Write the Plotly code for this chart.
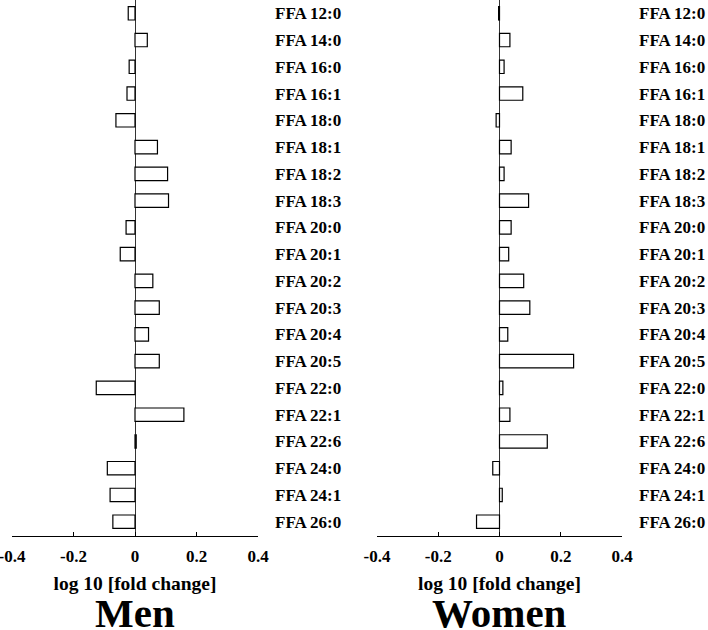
import plotly.graph_objects as go

categories = ["FFA 12:0", "FFA 14:0", "FFA 16:0", "FFA 16:1", "FFA 18:0", "FFA 18:1",
              "FFA 18:2", "FFA 18:3", "FFA 20:0", "FFA 20:1", "FFA 20:2", "FFA 20:3",
              "FFA 20:4", "FFA 20:5", "FFA 22:0", "FFA 22:1", "FFA 22:6", "FFA 24:0",
              "FFA 24:1", "FFA 26:0"]
men_values = [-0.022, 0.040, -0.019, -0.026, -0.062, 0.073, 0.106, 0.109, -0.029, -0.048,
              0.058, 0.079, 0.044, 0.079, -0.126, 0.159, 0.004, -0.090, -0.081, -0.072]
women_values = [-0.003, 0.034, 0.015, 0.076, -0.011, 0.038, 0.015, 0.095, 0.038, 0.030,
                0.079, 0.099, 0.027, 0.242, 0.011, 0.034, 0.156, -0.022, 0.009, -0.075]
tick_vals = [-0.4, -0.2, 0, 0.2, 0.4]
tick_text = ["-0.4", "-0.2", "0", "0.2", "0.4"]
axis_title = "log 10 [fold change]"
panel_titles = ["Men", "Women"]

FONT = "Liberation Serif"
W, H = 708, 630
plot_top, plot_bottom = 0, 536
plot_h = plot_bottom - plot_top
row = 26.76
first_center = 13.3
last_center = 521.7
y_top = 0 - (first_center - plot_top) / row
y_bot = 19 + (plot_bottom - last_center) / row

fig = go.Figure()
for i, vals in enumerate([men_values, women_values]):
    sfx = "" if i == 0 else str(i + 1)
    fig.add_trace(go.Bar(
        x=vals, y=categories, orientation="h", width=0.5,
        marker=dict(color="white", line=dict(color="black", width=1.2)),
        xaxis="x" + sfx, yaxis="y" + sfx, showlegend=False,
        hoverinfo="x+y"))

domains = [[12 / W, 258 / W], [377 / W, 622 / W]]
layout = dict(
    template="none",
    width=W, height=H,
    margin=dict(l=0, r=0, t=plot_top, b=H - plot_bottom, pad=0),
    plot_bgcolor="white", paper_bgcolor="white",
    font=dict(family=FONT, color="black"),
    showlegend=False,
    annotations=[],
)
for i in range(2):
    sfx = "" if i == 0 else str(i + 1)
    layout["xaxis" + sfx] = dict(
        domain=domains[i], range=[-0.4, 0.4], anchor="y" + sfx,
        tickvals=tick_vals, ticktext=tick_text,
        ticks="inside", ticklen=4, tickcolor="black", tickwidth=1,
        showline=True, linecolor="black", linewidth=1.2,
        showgrid=False, zeroline=True, zerolinecolor="#333333", zerolinewidth=1.3,
        tickfont=dict(family=FONT, size=17, color="black", weight="bold"),
        ticklabelstandoff=4, automargin=False, ticklabeloverflow="allow",
        title=dict(text=axis_title, standoff=11,
                   font=dict(family=FONT, size=19.5, color="black", weight="bold")),
        fixedrange=True,
    )
    layout["yaxis" + sfx] = dict(
        domain=[0, 1], anchor="x" + sfx, side="right",
        type="category", categoryorder="array", categoryarray=categories,
        range=[y_bot, y_top],
        showline=False, showgrid=False, zeroline=False, ticks="",
        ticklabelstandoff=16, automargin=False, ticklabeloverflow="allow",
        tickfont=dict(family=FONT, size=17, color="black", weight="bold"),
        fixedrange=True,
    )
    layout["annotations"].append(dict(
        text=panel_titles[i], xref="paper", yref="paper",
        x=(domains[i][0] + domains[i][1]) / 2, y=-(613 - plot_bottom) / plot_h,
        xanchor="center", yanchor="middle", showarrow=False, borderpad=0,
        font=dict(family=FONT, size=41, color="black", weight="bold")))

fig.update_layout(**layout)
# remove the default page margin so the 708x630 figure fills the window exactly
fig.write_html("out.html", config={"displayModeBar": False},
               post_script="document.body.style.margin='0';document.body.style.overflow='hidden';")
